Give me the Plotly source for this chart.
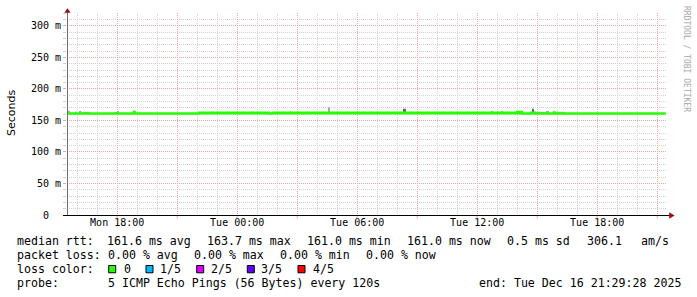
import plotly.graph_objects as go
from datetime import datetime, timedelta

# ---------------- data ----------------
START = datetime(2025, 12, 15, 15, 29, 28)
END = datetime(2025, 12, 16, 21, 29, 28)

# median rtt drawn as a step series (hours after START, ms)
med_hours = [0.00, 3.33, 3.40, 6.60, 10.10, 10.30, 22.50, 22.75, 23.20, 23.40, 24.33, 24.40, 29.93]
med_lo_ms = [161.0, 161.0, 161.0, 161.0, 161.0, 161.0, 161.0, 161.0, 161.0, 161.0, 161.0, 161.0, 161.0]
med_hi_ms = [161.0, 164.0, 161.0, 162.6, 161.0, 162.6, 163.8, 161.0, 162.6, 161.0, 163.0, 161.0, 161.0]

# smoke (ping spread above median): start/end hours after START, top in ms
smoke_start_h = [0.05, 0.40, 0.60, 0.80, 1.00, 2.35, 2.50, 11.15, 13.08, 16.80, 21.20, 21.50, 21.70, 23.28, 23.35, 23.95, 24.45]
smoke_end_h = [0.15, 0.50, 0.72, 1.00, 1.12, 2.50, 2.56, 11.20, 13.13, 16.95, 21.30, 21.55, 21.80, 23.33, 23.95, 24.10, 24.90]
smoke_top_ms = [165.5, 163.8, 165.0, 163.8, 163.8, 163.8, 165.0, 165.0, 171.0, 168.5, 165.0, 164.0, 165.0, 168.5, 163.8, 165.0, 163.8]
smoke_dense = [False, False, False, False, False, False, False, False, False, True, False, False, False, True, False, False, False]
smoke_base_ms = 161.0

x_tick_times = ["2025-12-15 18:00", "2025-12-15 21:00", "2025-12-16 00:00", "2025-12-16 03:00",
                "2025-12-16 06:00", "2025-12-16 09:00", "2025-12-16 12:00", "2025-12-16 15:00",
                "2025-12-16 18:00", "2025-12-16 21:00"]
x_tick_text = ["Mon 18:00", "", "Tue 00:00", "", "Tue 06:00", "", "Tue 12:00", "", "Tue 18:00", ""]
y_tick_vals = [0, 50, 100, 150, 200, 250, 300]
y_tick_text = ["0\u00a0\u00a0", "50 m", "100 m", "150 m", "200 m", "250 m", "300 m"]

rtt_stats = ["161.6 ms avg", "163.7 ms max", "161.0 ms min", "161.0 ms now", "0.5 ms sd", "306.1", "am/s"]
loss_stats = ["0.00 % avg", "0.00 % max", "0.00 % min", "0.00 % now"]
loss_labels = ["0", "1/5", "2/5", "3/5", "4/5"]
loss_colors = ["#26ff00", "#00b8ff", "#dd00ff", "#5e00ff", "#ff0000"]
probe_text = "5 ICMP Echo Pings (56 Bytes) every 120s"
end_text = "end: Tue Dec 16 21:29:28 2025"

# ---------------- layout helpers ----------------
W, H = 697, 297
L, R, T, B = 67, 667, 13, 215
MONO = "DejaVu Sans Mono"
GREEN = "#26ff00"


def px(x):
    return (x - L) / (R - L)


def py(y):
    return (B - y) / (B - T)


def t_of(h):
    return START + timedelta(hours=h)


fig = go.Figure()

# smoke bars
for s, e, top, dense in zip(smoke_start_h, smoke_end_h, smoke_top_ms, smoke_dense):
    fig.add_trace(go.Bar(
        x=[t_of((s + e) / 2)], y=[top - smoke_base_ms], base=[smoke_base_ms],
        width=[(e - s) * 3600 * 1000],
        marker=dict(color="#666666" if dense else "#a8a8a8", line=dict(width=0)),
        showlegend=False, hoverinfo="skip"))

med_x = [t_of(h) for h in med_hours]
fig.add_trace(go.Scatter(x=med_x, y=med_lo_ms, mode="lines", line=dict(color=GREEN, width=2, shape="hv"),
                         showlegend=False, hoverinfo="skip"))
fig.add_trace(go.Scatter(x=med_x, y=med_hi_ms, mode="lines", line=dict(color=GREEN, width=2, shape="hv"),
                         fill="tonexty", fillcolor=GREEN, showlegend=False, hoverinfo="skip"))

MGRID = "#eaa6a6"
GRID = "#d2d2d2"

# minor grid positions (hourly / every 10 ms), skipping the major lines
first_hour = datetime(2025, 12, 15, 16, 0, 0)
x_minor = []
k = 0
while first_hour + timedelta(hours=k) < END:
    t = first_hour + timedelta(hours=k)
    if t.hour % 3 != 0:
        x_minor.append(t)
    k += 1
y_minor = [v for v in range(10, 321, 10) if v % 50 != 0]

fig.update_xaxes(
    type="date", range=[START, END],
    tickmode="array", tickvals=x_tick_times, ticktext=x_tick_text,
    showgrid=True, gridcolor=MGRID, griddash="1px,1px", gridwidth=1,
    ticks="",
    tickfont=dict(family=MONO, size=10, color="#000000"),
    minor=dict(tickmode="array", tickvals=x_minor,
               showgrid=True, gridcolor=GRID, griddash="1px,1px", ticks=""),
    showline=False, zeroline=False, fixedrange=True,
)
fig.update_yaxes(
    range=[0, 320.6],
    tickmode="array", tickvals=y_tick_vals, ticktext=y_tick_text,
    showgrid=True, gridcolor=MGRID, griddash="1px,1px", gridwidth=1,
    ticks="outside", ticklen=3, tickcolor=MGRID, tickwidth=1,
    tickfont=dict(family=MONO, size=10, color="#000000"),
    minor=dict(tickmode="array", tickvals=y_minor, showgrid=True, gridcolor=GRID,
               griddash="1px,1px", ticks="outside", ticklen=3, tickcolor=GRID),
    showline=False, zeroline=False, fixedrange=True,
)

shapes = []
# red tick extensions of major vertical lines below the x axis
for tv in x_tick_times:
    shapes.append(dict(type="line", xref="x", yref="paper", x0=tv, x1=tv, y0=py(215.5), y1=py(218.5),
                       line=dict(color=MGRID, width=1)))
# axes lines
shapes.append(dict(type="line", xref="paper", yref="paper", x0=px(67.5), x1=px(67.5), y0=py(215.5), y1=py(11),
                   line=dict(color="#707070", width=1)))
shapes.append(dict(type="line", xref="paper", yref="paper", x0=px(63), x1=px(670), y0=py(215.5), y1=py(215.5),
                   line=dict(color="#000000", width=1)))
# arrows
ARROW = "#9a1010"
shapes.append(dict(type="path", xref="paper", yref="paper",
                   path=f"M {px(64.3)} {py(12.8)} L {px(70.7)} {py(12.8)} L {px(67.5)} {py(8.2)} Z",
                   fillcolor=ARROW, line=dict(width=0)))
shapes.append(dict(type="path", xref="paper", yref="paper",
                   path=f"M {px(669.2)} {py(212.3)} L {px(669.2)} {py(218.7)} L {px(674.6)} {py(215.5)} Z",
                   fillcolor=ARROW, line=dict(width=0)))

annotations = []


def text(x, y, s, size=11.6, family=MONO, color="#000000", angle=0, xanchor="left"):
    annotations.append(dict(xref="paper", yref="paper", x=px(x), y=py(y), text=s, showarrow=False,
                            xanchor=xanchor, yanchor="middle", textangle=angle, borderpad=0,
                            font=dict(family=family, size=size, color=color)))


# legend / stats lines
Y1, Y2, Y3, Y4 = 241, 255, 269, 283
text(15.5, Y1, "median rtt:")
for xpos, s in zip([106.3, 206.0, 306.0, 406.2, 506.0, 585.6, 639.5], rtt_stats):
    text(xpos, Y1, s)
text(15.5, Y2, "packet loss:")
for xpos, s in zip([106.6, 192.6, 278.6, 364.6], loss_stats):
    text(xpos, Y2, s)
text(15.5, Y3, "loss color:")
sq_x = [108.7, 146.0, 196.7, 247.3, 298.0]
lab_x = [122.6, 158.7, 209.7, 260.3, 311.5]
for sx, lx, lab, col in zip(sq_x, lab_x, loss_labels, loss_colors):
    shapes.append(dict(type="rect", xref="paper", yref="paper", x0=px(sx), x1=px(sx + 7),
                       y0=py(265.5), y1=py(272.8), fillcolor=col, line=dict(color="#000000", width=1)))
    text(lx, Y3, lab)
text(15.5, Y4, "probe:")
text(106.6, Y4, probe_text)
text(477.6, Y4, end_text)

# axis title and watermark
text(11, 113, "Seconds", size=11, family="DejaVu Sans", angle=-90, xanchor="center")
text(686, 59, "RRDTOOL / TOBI OETIKER", size=8, color="#a8a8a8", angle=90, xanchor="center")

fig.update_layout(
    width=W, height=H, autosize=False,
    margin=dict(l=L, r=W - R, t=T, b=H - B, pad=0),
    paper_bgcolor="#ffffff", plot_bgcolor="#ffffff",
    barmode="overlay", showlegend=False,
    shapes=shapes, annotations=annotations,
)

fig.write_html("out.html")
